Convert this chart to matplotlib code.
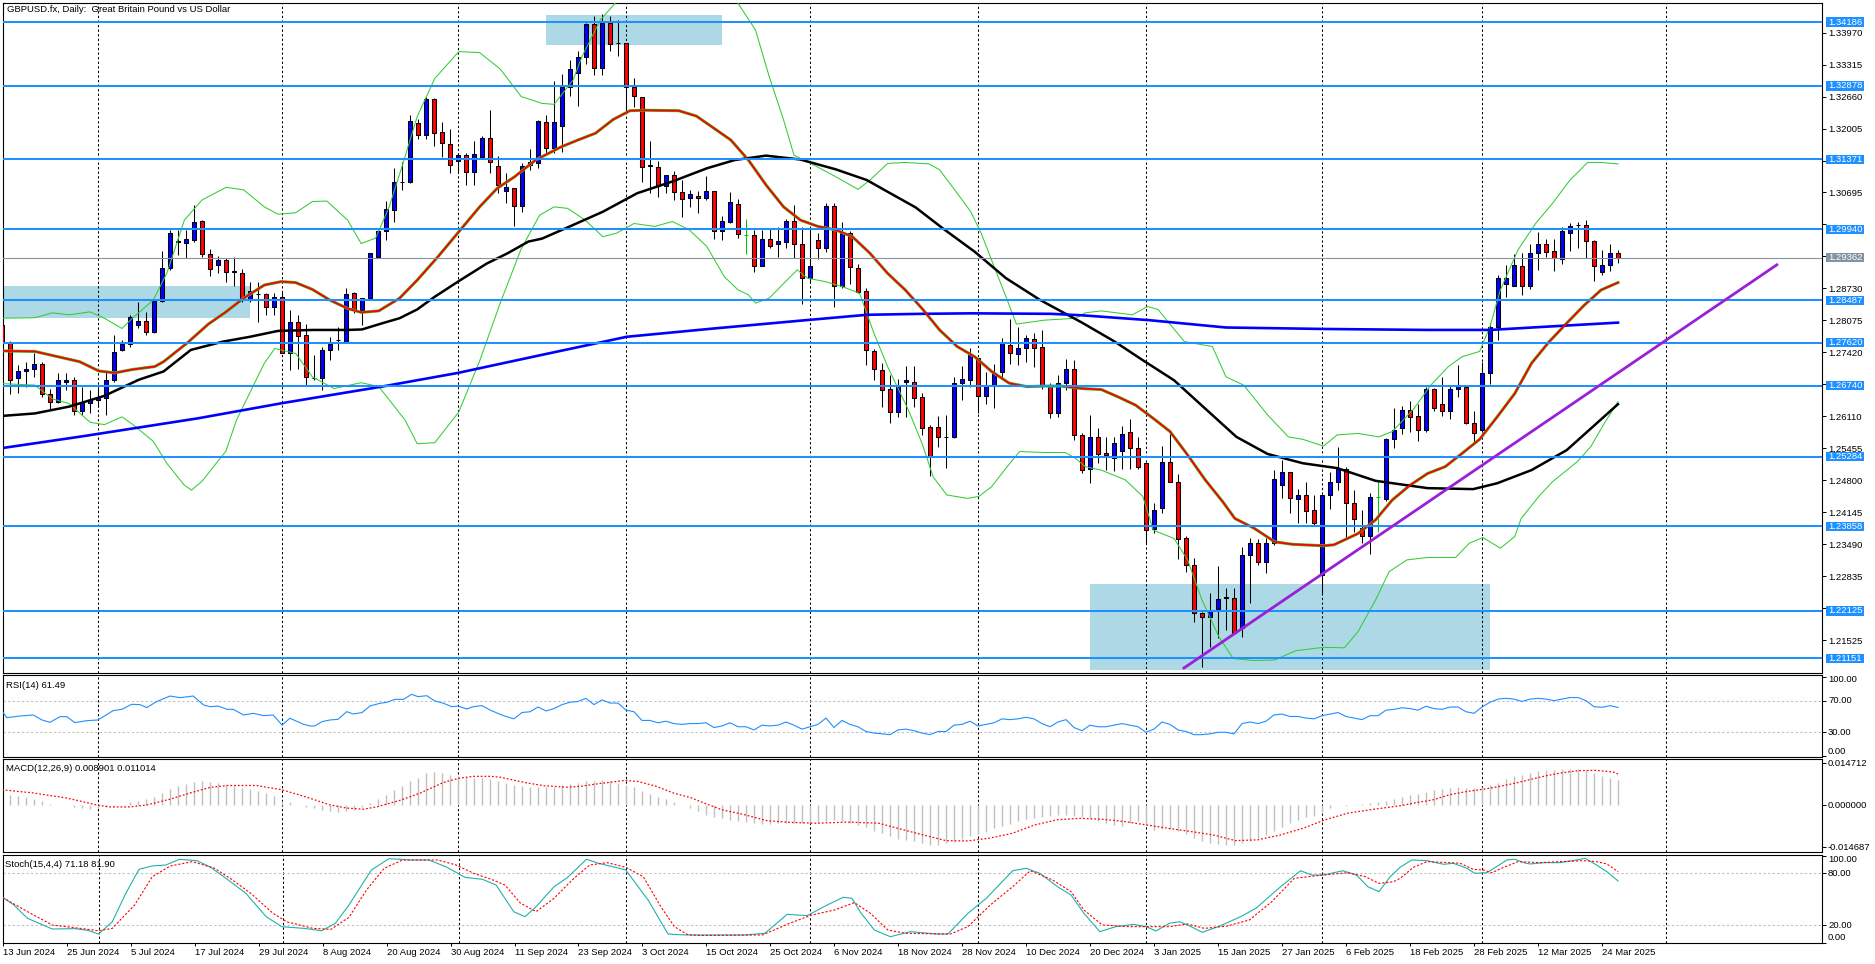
import matplotlib
matplotlib.use("Agg")
import matplotlib.pyplot as plt
import matplotlib.transforms as mtrans
from matplotlib.patches import Rectangle
import numpy as np
import pandas as pd

plt.rcParams['font.family'] = ['Liberation Sans', 'DejaVu Sans']
plt.rcParams['font.size'] = 6.8

#------ daily bars (13 Jun 2024 .. 26 Mar 2025, no 25 Dec / 1 Jan) ------------
dates = pd.bdate_range("2024-06-13", "2025-03-26")
dates = dates[~dates.isin(pd.to_datetime(["2024-12-25", "2025-01-01"]))]

opens = [1.2798, 1.2761, 1.2689, 1.2704, 1.2709, 1.2718, 1.2656, 1.2641, 1.2682, 1.2686,
         1.2621, 1.2638, 1.2644, 1.2648, 1.2685, 1.2747, 1.2760, 1.2798, 1.2806, 1.2784,
         1.2847, 1.2914, 1.2970, 1.2967, 1.2972, 1.3011, 1.2943, 1.2920, 1.2931, 1.2907,
         1.2905, 1.2849, 1.2861, 1.2861, 1.2834, 1.2855, 1.2740, 1.2805, 1.2778, 1.2690,
         1.2689, 1.2747, 1.2767, 1.2764, 1.2863, 1.2829, 1.2854, 1.2938, 1.2990, 1.3034,
         1.3091, 1.3090, 1.3211, 1.3187, 1.3260, 1.3194, 1.3168, 1.3133, 1.3146, 1.3112,
         1.3143, 1.3182, 1.3124, 1.3073, 1.3078, 1.3042, 1.3125, 1.3130, 1.3214, 1.3160,
         1.3206, 1.3285, 1.3315, 1.3346, 1.3415, 1.3324, 1.3416, 1.3375, 1.3375, 1.3285,
         1.3266, 1.3124, 1.3121, 1.3083, 1.3105, 1.3070, 1.3059, 1.3063, 1.3059, 1.3072,
         1.2990, 1.3009, 1.3045, 1.2982, 1.2982, 1.2919, 1.2974, 1.2963, 1.2969, 1.3011,
         1.2965, 1.2895, 1.2972, 1.2956, 1.3042, 1.2877, 1.2986, 1.2915, 1.2867, 1.2745,
         1.2706, 1.2668, 1.2619, 1.2681, 1.2681, 1.2650, 1.2590, 1.2590, 1.2568, 1.2568,
         1.2679, 1.2686, 1.2730, 1.2653, 1.2674, 1.2701, 1.2757, 1.2739, 1.2750, 1.2769,
         1.2754, 1.2675, 1.2617, 1.2680, 1.2709, 1.2573, 1.2503, 1.2568, 1.2535, 1.2525,
         1.2540, 1.2580, 1.2546, 1.2516, 1.2380, 1.2424, 1.2518, 1.2476, 1.2361, 1.2307,
         1.2208, 1.2200, 1.2216, 1.2241, 1.2238, 1.2177, 1.2327, 1.2352, 1.2313, 1.2351,
         1.2470, 1.2498, 1.2441, 1.2450, 1.2419, 1.2286, 1.2450, 1.2476, 1.2504, 1.2434,
         1.2382, 1.2366, 1.2445, 1.2441, 1.2564, 1.2588, 1.2624, 1.2611, 1.2583, 1.2668,
         1.2636, 1.2623, 1.2667, 1.2672, 1.2598, 1.2583, 1.2699, 1.2793, 1.2882, 1.2878,
         1.2918, 1.2877, 1.2945, 1.2963, 1.2950, 1.2933, 1.2987, 1.3003, 1.3003, 1.2971,
         1.2907, 1.2922, 1.2945]
highs = [1.2801, 1.2766, 1.2716, 1.2723, 1.2740, 1.2723, 1.2668, 1.2699, 1.2699, 1.2692,
         1.2672, 1.2665, 1.2670, 1.2702, 1.2777, 1.2767, 1.2819, 1.2846, 1.2825, 1.2850,
         1.2950, 1.2993, 1.2993, 1.2993, 1.3044, 1.3013, 1.2953, 1.2939, 1.2935, 1.2938,
         1.2912, 1.2887, 1.2887, 1.2864, 1.2863, 1.2866, 1.2829, 1.2819, 1.2801, 1.2737,
         1.2754, 1.2774, 1.2795, 1.2873, 1.2866, 1.2854, 1.2945, 1.2993, 1.3052, 1.3119,
         1.3131, 1.3228, 1.3221, 1.3266, 1.3262, 1.3214, 1.3199, 1.3150, 1.3150, 1.3175,
         1.3185, 1.3238, 1.3144, 1.3110, 1.3078, 1.3129, 1.3158, 1.3218, 1.3228, 1.3298,
         1.3313, 1.3341, 1.3359, 1.3416, 1.3431, 1.3435, 1.3430, 1.3423, 1.3375, 1.3305,
         1.3266, 1.3175, 1.3133, 1.3105, 1.3114, 1.3095, 1.3075, 1.3072, 1.3103, 1.3072,
         1.3021, 1.3070, 1.3057, 1.3015, 1.2993, 1.2993, 1.2996, 1.2999, 1.3016, 1.3044,
         1.2999, 1.2999, 1.2986, 1.3047, 1.3049, 1.3010, 1.2990, 1.2924, 1.2873, 1.2748,
         1.2720, 1.2696, 1.2687, 1.2714, 1.2714, 1.2658, 1.2593, 1.2612, 1.2614, 1.2692,
         1.2715, 1.2750, 1.2730, 1.2702, 1.2719, 1.2771, 1.2810, 1.2795, 1.2777, 1.2781,
         1.2788, 1.2679, 1.2696, 1.2728, 1.2726, 1.2576, 1.2614, 1.2588, 1.2569, 1.2569,
         1.2591, 1.2605, 1.2569, 1.2516, 1.2434, 1.2550, 1.2576, 1.2493, 1.2366, 1.2321,
         1.2211, 1.2249, 1.2305, 1.2259, 1.2259, 1.2344, 1.2361, 1.2359, 1.2361, 1.2501,
         1.2522, 1.2498, 1.2462, 1.2477, 1.2450, 1.2450, 1.2498, 1.2549, 1.2508, 1.2460,
         1.2420, 1.2454, 1.2481, 1.2566, 1.2629, 1.2632, 1.2643, 1.2636, 1.2672, 1.2670,
         1.2691, 1.2675, 1.2716, 1.2675, 1.2621, 1.2723, 1.2802, 1.2901, 1.2921, 1.2943,
         1.2945, 1.2965, 1.2989, 1.2974, 1.2974, 1.2998, 1.3008, 1.3010, 1.3014, 1.2972,
         1.2952, 1.2965, 1.2952]
lows = [1.2755, 1.2656, 1.2658, 1.2672, 1.2692, 1.2651, 1.2624, 1.2638, 1.2665, 1.2614,
        1.2614, 1.2617, 1.2630, 1.2614, 1.2682, 1.2744, 1.2753, 1.2791, 1.2777, 1.2781,
        1.2846, 1.2911, 1.2941, 1.2936, 1.2969, 1.2938, 1.2899, 1.2905, 1.2887, 1.2877,
        1.2846, 1.2846, 1.2805, 1.2818, 1.2818, 1.2740, 1.2706, 1.2709, 1.2675, 1.2685,
        1.2665, 1.2726, 1.2747, 1.2764, 1.2822, 1.2798, 1.2852, 1.2935, 1.2972, 1.3010,
        1.3075, 1.3089, 1.3180, 1.3180, 1.3165, 1.3143, 1.3109, 1.3112, 1.3085, 1.3085,
        1.3140, 1.3110, 1.3068, 1.3047, 1.3001, 1.3030, 1.3115, 1.3119, 1.3150, 1.3150,
        1.3153, 1.3268, 1.3247, 1.3332, 1.3311, 1.3311, 1.3359, 1.3350, 1.3233, 1.3244,
        1.3092, 1.3069, 1.3060, 1.3069, 1.3054, 1.3020, 1.3040, 1.3028, 1.3054, 1.2975,
        1.2973, 1.3006, 1.2977, 1.2943, 1.2906, 1.2919, 1.2955, 1.2938, 1.2956, 1.2936,
        1.2842, 1.2887, 1.2933, 1.2948, 1.2834, 1.2873, 1.2883, 1.2863, 1.2717, 1.2685,
        1.2630, 1.2597, 1.2610, 1.2610, 1.2630, 1.2573, 1.2488, 1.2549, 1.2505, 1.2566,
        1.2644, 1.2672, 1.2617, 1.2636, 1.2629, 1.2692, 1.2719, 1.2716, 1.2723, 1.2713,
        1.2667, 1.2607, 1.2610, 1.2665, 1.2563, 1.2494, 1.2474, 1.2515, 1.2501, 1.2500,
        1.2503, 1.2503, 1.2503, 1.2351, 1.2373, 1.2414, 1.2476, 1.2318, 1.2293, 1.2189,
        1.2097, 1.2138, 1.2158, 1.2173, 1.2166, 1.2160, 1.2228, 1.2306, 1.2291, 1.2348,
        1.2443, 1.2413, 1.2392, 1.2392, 1.2386, 1.2249, 1.2421, 1.2460, 1.2361, 1.2375,
        1.2352, 1.2329, 1.2375, 1.2437, 1.2546, 1.2575, 1.2580, 1.2561, 1.2578, 1.2623,
        1.2611, 1.2605, 1.2651, 1.2595, 1.2557, 1.2580, 1.2678, 1.2768, 1.2855, 1.2877,
        1.2860, 1.2871, 1.2911, 1.2938, 1.2909, 1.2923, 1.2950, 1.2955, 1.2935, 1.2889,
        1.2900, 1.2909, 1.2926]
closes = [1.2762, 1.2685, 1.2704, 1.2707, 1.2718, 1.2656, 1.2641, 1.2685, 1.2685, 1.2621,
          1.2638, 1.2644, 1.2648, 1.2685, 1.2743, 1.2760, 1.2815, 1.2806, 1.2784, 1.2847,
          1.2915, 1.2987, 1.2969, 1.2974, 1.3010, 1.2943, 1.2912, 1.2932, 1.2906, 1.2908,
          1.2849, 1.2868, 1.2862, 1.2834, 1.2855, 1.2740, 1.2805, 1.2775, 1.2692, 1.2689,
          1.2747, 1.2760, 1.2768, 1.2861, 1.2829, 1.2854, 1.2945, 1.2990, 1.3035, 1.3090,
          1.3092, 1.3216, 1.3187, 1.3260, 1.3191, 1.3170, 1.3126, 1.3147, 1.3112, 1.3148,
          1.3182, 1.3131, 1.3085, 1.3080, 1.3042, 1.3124, 1.3131, 1.3216, 1.3160, 1.3213,
          1.3285, 1.3322, 1.3346, 1.3415, 1.3324, 1.3416, 1.3373, 1.3376, 1.3285, 1.3267,
          1.3122, 1.3125, 1.3083, 1.3105, 1.3070, 1.3057, 1.3066, 1.3059, 1.3073, 1.2990,
          1.3011, 1.3050, 1.2984, 1.2982, 1.2919, 1.2975, 1.2960, 1.2970, 1.3011, 1.2963,
          1.2895, 1.2918, 1.2956, 1.3042, 1.2877, 1.2986, 1.2917, 1.2866, 1.2747, 1.2707,
          1.2665, 1.2619, 1.2673, 1.2685, 1.2649, 1.2588, 1.2530, 1.2569, 1.2569, 1.2679,
          1.2688, 1.2737, 1.2653, 1.2674, 1.2699, 1.2761, 1.2740, 1.2750, 1.2771, 1.2750,
          1.2675, 1.2617, 1.2680, 1.2709, 1.2573, 1.2501, 1.2568, 1.2534, 1.2532, 1.2556,
          1.2575, 1.2546, 1.2508, 1.2378, 1.2420, 1.2518, 1.2476, 1.2359, 1.2307, 1.2208,
          1.2200, 1.2212, 1.2236, 1.2239, 1.2167, 1.2327, 1.2352, 1.2313, 1.2352, 1.2482,
          1.2498, 1.2443, 1.2450, 1.2417, 1.2392, 1.2450, 1.2477, 1.2504, 1.2434, 1.2400,
          1.2366, 1.2445, 1.2445, 1.2564, 1.2584, 1.2624, 1.2610, 1.2583, 1.2668, 1.2629,
          1.2623, 1.2668, 1.2675, 1.2598, 1.2576, 1.2699, 1.2793, 1.2894, 1.2894, 1.2922,
          1.2877, 1.2945, 1.2963, 1.2948, 1.2935, 1.2991, 1.3001, 1.3002, 1.2971, 1.2918,
          1.2922, 1.2946, 1.2936]

#------ indicator lines on the price chart (bar index, price) ------------------
ma_red_x = [0.1, 4.1, 9.7, 12.1, 14.1, 16.3, 19.1, 20.2, 23.2, 25.8, 28.0, 30.2, 32.8, 34.9,
            36.7, 38.8, 41.0, 43.2, 44.9, 47.1, 49.7, 51.9, 54.5, 57.1, 59.7, 61.9, 64.1,
            66.7, 69.9, 72.0, 74.2, 76.4, 78.5, 80.3, 84.6, 86.8, 89.0, 91.1, 93.3, 95.5,
            97.7, 99.8, 102.0, 104.2, 106.3, 108.5, 110.7, 112.9, 115.0, 117.2, 119.4, 121.6,
            123.7, 125.9, 128.1, 130.3, 132.4, 135.0, 137.4, 139.5, 141.7, 143.9, 146.0,
            148.2, 150.4, 152.6, 154.1, 156.5, 159.1, 161.3, 165.2, 166.5, 169.5, 171.7,
            173.8, 176.0, 178.2, 180.4, 182.5, 184.7, 186.9, 189.1, 191.2, 193.4, 195.6,
            197.8, 199.9, 202.0]
ma_red_y = [1.2745, 1.2744, 1.2723, 1.2704, 1.2700, 1.2707, 1.2713, 1.2723, 1.2762, 1.2800,
            1.2825, 1.2853, 1.2880, 1.2887, 1.2885, 1.2871, 1.2849, 1.2832, 1.2824, 1.2827,
            1.2853, 1.2890, 1.2938, 1.2989, 1.3040, 1.3078, 1.3102, 1.3136, 1.3163, 1.3177,
            1.3191, 1.3219, 1.3237, 1.3238, 1.3237, 1.3226, 1.3201, 1.3177, 1.3136, 1.3085,
            1.3040, 1.3013, 1.3000, 1.2993, 1.2979, 1.2945, 1.2904, 1.2870, 1.2832, 1.2788,
            1.2754, 1.2733, 1.2703, 1.2679, 1.2672, 1.2673, 1.2673, 1.2668, 1.2666, 1.2651,
            1.2634, 1.2607, 1.2580, 1.2532, 1.2481, 1.2436, 1.2402, 1.2382, 1.2354, 1.2349,
            1.2346, 1.2348, 1.2371, 1.2399, 1.2440, 1.2470, 1.2494, 1.2508, 1.2535, 1.2564,
            1.2610, 1.2658, 1.2720, 1.2764, 1.2802, 1.2839, 1.2870, 1.2885]

ma_black_x = [0.1, 4.1, 8.4, 12.8, 17.1, 20.2, 23.6, 27.6, 31.0, 34.5, 38.9, 43.2, 45.0, 47.6,
              49.7, 51.9, 54.1, 57.1, 60.6, 63.2, 65.8, 67.5, 70.7, 75.1, 79.4, 83.8, 88.1,
              91.6, 95.5, 99.8, 104.2, 108.1, 110.7, 114.2, 117.6, 121.6, 125.5, 129.8, 135.0,
              139.1, 142.6, 146.5, 150.8, 154.3, 158.2, 162.6, 166.9, 171.7, 178.2, 183.9,
              186.9, 191.2, 195.6, 198.6, 202.0]
ma_black_y = [1.2612, 1.2617, 1.2631, 1.2653, 1.2686, 1.2703, 1.2747, 1.2764, 1.2774, 1.2786,
              1.2788, 1.2788, 1.2789, 1.2802, 1.2812, 1.2830, 1.2856, 1.2888, 1.2924, 1.2945,
              1.2969, 1.2975, 1.2998, 1.3030, 1.3068, 1.3092, 1.3119, 1.3136, 1.3145, 1.3137,
              1.3117, 1.3095, 1.3071, 1.3039, 1.2996, 1.2948, 1.2894, 1.2849, 1.2803, 1.2764,
              1.2726, 1.2685, 1.2621, 1.2569, 1.2534, 1.2515, 1.2505, 1.2479, 1.2464, 1.2462,
              1.2474, 1.2501, 1.2542, 1.2586, 1.2636]

ma_blue_x = [0, 10, 24.5, 35, 47.5, 57, 67.5, 78.1, 89, 99.8, 108.1, 115, 121.1, 131.1, 135,
             143.4, 153, 165.2, 178.2, 186, 193.4, 202]
ma_blue_y = [1.2546, 1.2570, 1.2607, 1.2638, 1.2672, 1.2700, 1.2737, 1.2774, 1.2791, 1.2807,
             1.2819, 1.2821, 1.2822, 1.2821, 1.2818, 1.2808, 1.2793, 1.2790, 1.2788, 1.2788,
             1.2795, 1.2803]

bb_up_x = [0.1, 4.1, 6.3, 8.4, 11.0, 12.8, 15.0, 16.3, 18.9, 20.6, 22.8, 25.0, 28.0, 30.2,
           32.8, 34.5, 36.7, 38.8, 40.6, 43.2, 44.9, 46.7, 48.4, 50.2, 51.9, 54.1, 57.1, 59.7,
           62.3, 64.9, 67.5, 69.0, 71.4, 72.5, 74.8, 76.8, 80.0, 84.0, 88.0, 92.0, 94.2, 95.9,
           97.7, 99.0, 101.1, 104.2, 107.0, 108.5, 110.7, 112.9, 115.9, 117.2, 119.4, 121.1,
           122.4, 123.7, 125.5, 126.8, 130.3, 134.2, 135.4, 137.4, 141.3, 143.2, 144.5, 147.8,
           151.3, 153.0, 155.2, 158.2, 160.8, 162.6, 165.2, 166.9, 169.5, 172.1, 173.8, 176.5,
           178.6, 180.8, 182.5, 184.7, 186.0, 187.3, 189.5, 191.7, 193.8, 196.0, 198.2, 199.9,
           202.0]
bb_up_y = [1.2812, 1.2813, 1.2823, 1.2819, 1.2825, 1.2812, 1.2791, 1.2812, 1.2849, 1.2904,
           1.3013, 1.3054, 1.3080, 1.3075, 1.3040, 1.3025, 1.3028, 1.3051, 1.3052, 1.3013,
           1.2965, 1.2976, 1.3040, 1.3133, 1.3225, 1.3303, 1.3358, 1.3356, 1.3322, 1.3266,
           1.3252, 1.3250, 1.3300, 1.3348, 1.3423, 1.3460, 1.3540, 1.3580, 1.3560, 1.3457,
           1.3402, 1.3307, 1.3218, 1.3146, 1.3129, 1.3102, 1.3076, 1.3095, 1.3129, 1.3131,
           1.3128, 1.3116, 1.3068, 1.3030, 1.2986, 1.2931, 1.2856, 1.2800, 1.2808, 1.2812,
           1.2823, 1.2827, 1.2819, 1.2836, 1.2830, 1.2764, 1.2754, 1.2692, 1.2675, 1.2614,
           1.2569, 1.2564, 1.2550, 1.2573, 1.2576, 1.2569, 1.2580, 1.2627, 1.2675, 1.2713,
           1.2733, 1.2744, 1.2795, 1.2870, 1.2952, 1.3006, 1.3047, 1.3095, 1.3131, 1.3131,
           1.3128]

bb_lo_x = [0.1, 4.1, 6.3, 8.4, 11.0, 12.8, 15.0, 16.3, 18.9, 20.6, 22.8, 23.7, 25.0, 28.0,
           29.3, 32.8, 34.1, 36.7, 38.8, 41.5, 44.9, 47.1, 50.4, 51.9, 54.1, 57.1, 59.7, 62.3,
           64.9, 67.2, 69.0, 70.7, 72.9, 75.1, 76.8, 79.0, 81.6, 83.8, 85.9, 88.1, 90.3, 92.0,
           93.3, 94.2, 95.9, 97.7, 99.4, 100.7, 102.9, 105.0, 107.2, 109.0, 110.7, 113.3,
           115.0, 116.4, 118.1, 120.7, 122.1, 123.7, 125.5, 127.2, 130.3, 132.9, 134.2, 135.4,
           137.4, 140.4, 142.6, 143.9, 146.5, 148.2, 150.0, 152.1, 153.9, 156.5, 159.1, 161.7,
           165.2, 167.8, 169.5, 171.7, 173.4, 175.6, 178.2, 181.7, 183.4, 185.1, 187.3, 189.1,
           189.9, 192.1, 193.8, 196.9, 198.6, 200.3, 202.0]
bb_lo_y = [1.2678, 1.2675, 1.2647, 1.2637, 1.2599, 1.2594, 1.2610, 1.2595, 1.2560, 1.2515,
           1.2470, 1.2460, 1.2478, 1.2540, 1.2603, 1.2720, 1.2750, 1.2740, 1.2692, 1.2668,
           1.2680, 1.2672, 1.2603, 1.2555, 1.2557, 1.2620, 1.2724, 1.2844, 1.2954, 1.3023,
           1.3040, 1.3037, 1.3013, 1.2979, 1.2986, 1.3006, 1.3000, 1.3010, 1.2993, 1.2959,
           1.2897, 1.2870, 1.2860, 1.2843, 1.2853, 1.2883, 1.2911, 1.2894, 1.2887, 1.2877,
           1.2863, 1.2781, 1.2713, 1.2624, 1.2556, 1.2487, 1.2450, 1.2443, 1.2447, 1.2467,
           1.2505, 1.2539, 1.2537, 1.2537, 1.2525, 1.2508, 1.2501, 1.2481, 1.2447, 1.2378,
           1.2361, 1.2317, 1.2235, 1.2160, 1.2115, 1.2111, 1.2112, 1.2131, 1.2138, 1.2137,
           1.2170, 1.2235, 1.2293, 1.2317, 1.2322, 1.2322, 1.2351, 1.2363, 1.2341, 1.2365,
           1.2402, 1.2447, 1.2477, 1.2518, 1.2549, 1.2597, 1.2641]

#------ chart objects ----------------------------------------------------------
levels = [1.34186, 1.32878, 1.31371, 1.29940, 1.28487, 1.27620, 1.26740, 1.25284,
          1.23858, 1.22125, 1.21151]
bid = 1.29362
zone_x0 = [-5, 68, 136]
zone_x1 = [31, 90, 186]
zone_lo = [1.28131, 1.33722, 1.20915]
zone_hi = [1.28780, 1.34330, 1.22677]
trend_x = [147.6, 222.0]
trend_y = [1.2094, 1.2923]
price_ticks = [1.21525 + 0.00655 * k for k in range(20)]

#------ RSI(14) ----------------------------------------------------------------
rsi_x = [0, 0.6, 2.25, 3.9, 5, 6, 7.25, 8.1, 9.1, 10.6, 12, 13.9, 15, 16.2, 17.25, 18.1,
         19.3, 21, 22.25, 23.9, 25.2, 26, 27, 28.1, 28.9, 30.2, 31.4, 32.7, 33.9, 35, 36,
         37.7, 38.5, 39.1, 40, 41, 42, 43.1, 43.9, 45, 46, 47.25, 48.1, 49.1, 50.2, 51.2, 52,
         53.1, 54.1, 55.2, 56.2, 57, 58.1, 58.9, 60, 61, 62.25] + list(range(63, 203))
rsi_y = [57.0, 48.5, 50.6, 51.9, 45.6, 42.6, 49.8, 49.8, 42.2, 44.7, 45.6, 57.4, 59.1, 65.4,
         65.0, 61.2, 68.7, 75.9, 73.8, 75.9, 64.6, 62.4, 63.2, 59.1, 59.1, 51.9, 54.0, 51.1,
         51.9, 39.2, 47.7, 40.1, 38.0, 38.0, 43.5, 45.6, 46.4, 56.1, 53.2, 54.9, 63.3, 66.7,
         67.9, 71.7, 71.7, 78.1, 75.1, 76.3, 69.6, 66.7, 62.4, 63.2, 59.5, 62.4, 63.7, 58.2,
         52.8,
         50, 47, 55, 56, 62, 57, 60, 65, 68, 69, 73, 65, 71, 67, 67, 58, 56, 45, 45, 42,
         44, 41, 40, 41, 41, 42, 36, 38, 42, 37, 37, 33, 39, 38, 39, 43, 39, 34, 37, 40,
         48, 36, 45, 40, 37, 31, 29, 28, 27, 33, 34, 32, 29, 27, 31, 31, 39, 40, 44, 38,
         40, 42, 47, 46, 47, 49, 47, 41, 37, 43, 46, 36, 32, 39, 37, 37, 39, 41, 39, 37,
         30, 34, 43, 40, 33, 31, 27, 27, 28, 30, 30, 28, 41, 43, 41, 44, 52, 53, 50, 50,
         48, 47, 51, 53, 55, 50, 48, 46, 51, 51, 58, 59, 61, 60, 58, 63, 60, 59, 62, 62,
         56, 54, 62, 68, 72, 73, 72, 69, 72, 73, 72, 70, 72, 74, 74, 70, 62.4, 61.6, 63.7,
         61.49]

#------ MACD(12,26,9) ----------------------------------------------------------
macd_main = [0.0040, 0.0038, 0.0032, 0.0029, 0.0023, 0.0014, 0.0006, 0.0003, 0.0000, -0.0005,
             -0.0009, -0.0012, -0.0010, -0.0006, -0.0001, 0.0003, 0.0011, 0.0015, 0.0023, 0.0030,
             0.0043, 0.0057, 0.0068, 0.0076, 0.0083, 0.0084, 0.0081, 0.0077, 0.0072, 0.0067,
             0.0060, 0.0057, 0.0050, 0.0043, 0.0032, 0.0016, 0.0011, 0.0003, -0.0004, -0.0009,
             -0.0015, -0.0020, -0.0023, -0.0020, -0.0015, -0.0006, 0.0008, 0.0022, 0.0037, 0.0053,
             0.0067, 0.0084, 0.0096, 0.0112, 0.0116, 0.0114, 0.0108, 0.0103, 0.0100, 0.0097,
             0.0095, 0.0091, 0.0085, 0.0079, 0.0071, 0.0067, 0.0064, 0.0065, 0.0064, 0.0066,
             0.0071, 0.0076, 0.0080, 0.0086, 0.0085, 0.0090, 0.0086, 0.0080, 0.0072, 0.0064,
             0.0050, 0.0040, 0.0029, 0.0021, 0.0011, 0.0002, -0.0008, -0.0018, -0.0033, -0.0039,
             -0.0045, -0.0050, -0.0054, -0.0058, -0.0062, -0.0065, -0.0065, -0.0062, -0.0062, -0.0062,
             -0.0062, -0.0062, -0.0058, -0.0055, -0.0050, -0.0054, -0.0060, -0.0067, -0.0076, -0.0088,
             -0.0097, -0.0108, -0.0117, -0.0121, -0.0124, -0.0131, -0.0137, -0.0137, -0.0132, -0.0127,
             -0.0116, -0.0108, -0.0101, -0.0092, -0.0077, -0.0070, -0.0063, -0.0053, -0.0046, -0.0042,
             -0.0039, -0.0035, -0.0033, -0.0033, -0.0036, -0.0040, -0.0045, -0.0055, -0.0061, -0.0068,
             -0.0072, -0.0060, -0.0055, -0.0068, -0.0085, -0.0081, -0.0082, -0.0090, -0.0100, -0.0115,
             -0.0125, -0.0131, -0.0136, -0.0138, -0.0138, -0.0132, -0.0123, -0.0113, -0.0103, -0.0089,
             -0.0074, -0.0062, -0.0050, -0.0040, -0.0035, -0.0022, -0.0008, 0.0001, -0.0002, 0.0003,
             0.0006, 0.0009, 0.0011, 0.0015, 0.0022, 0.0030, 0.0036, 0.0041, 0.0048, 0.0054,
             0.0056, 0.0062, 0.0065, 0.0062, 0.0060, 0.0064, 0.0070, 0.0080, 0.0091, 0.0102,
             0.0108, 0.0114, 0.0121, 0.0123, 0.0123, 0.0126, 0.0129, 0.0129, 0.0124, 0.0115,
             0.0104, 0.0097, 0.008901]
macd_sig_x = [0, 3.9, 8.1, 12, 13.5, 16, 18.1, 21, 23.9, 26, 28.1, 31.8, 35, 38.1, 41, 43.1,
              45.2, 46.8, 49.75, 52.25, 55.2, 57.25, 58.9, 61, 62.25, 65.6, 67.8, 70.6, 72.3,
              74.5, 76.8, 77.9, 79.5, 81.8, 84, 86.25, 87.25, 90, 92.8, 95.6, 98.4, 101.8, 105.7,
              109.6, 112.4, 115.15, 118, 120.7, 123.5, 126.3, 129.1, 131.9, 134.7, 137.5, 140.3,
              143.05, 145.8, 148.6, 151.4, 154.2, 157, 159.8, 162.6, 165.4, 168.2, 171, 174.75,
              176.8, 178.9, 181, 183.1, 185.2, 187.25, 189.3, 190.9, 193, 195.1, 197.2, 199.3,
              201.4, 202]
macd_sig_y = [0.0055, 0.0044, 0.0026, 0.0001, -0.0005, -0.0005, 0.0002, 0.0022, 0.0047, 0.0063,
              0.0070, 0.0070, 0.0055, 0.0029, 0.0002, -0.0009, -0.0013, -0.0005, 0.0018, 0.0043,
              0.0081, 0.0096, 0.0102, 0.0102, 0.0099, 0.0079, 0.0069, 0.0064, 0.0067, 0.0076,
              0.0084, 0.0088, 0.0084, 0.0067, 0.0043, 0.0026, 0.0014, -0.0015, -0.0032, -0.0053,
              -0.0059, -0.0062, -0.0058, -0.0062, -0.0083, -0.0103, -0.0123, -0.0124, -0.0114,
              -0.0097, -0.0068, -0.0050, -0.0045, -0.0048, -0.0056, -0.0068, -0.0080, -0.0091,
              -0.0103, -0.0123, -0.0120, -0.0103, -0.0080, -0.0050, -0.0027, -0.0015, -0.0001,
              0.0010, 0.0020, 0.0038, 0.0049, 0.0057, 0.0067, 0.0079, 0.0090, 0.0104, 0.0115,
              0.0122, 0.0123, 0.0117, 0.011014]

#------ Stochastic(15,4,4) -----------------------------------------------------
sto_k_x = [0, 1.4, 3.1, 6.2, 9, 10.6, 12, 13.7, 15.4, 17.05, 18.7, 20.4, 22.1, 24.3, 26, 28.2,
           30.4, 32.95, 34.9, 37.7, 39.9, 41.6, 43.3, 46.1, 48.3, 51.1, 53.3, 55.55, 57.8, 60,
           61.7, 63.9, 65.3, 66.7, 68.95, 70.6, 73, 74.5, 77.9, 80.7, 83.2, 85.1, 87.25, 92.8,
           95.3, 98.1, 100.6, 103.1, 105.1, 106.2, 107.3, 109, 111, 113.5, 116.8, 118.2, 120.7,
           123, 126.3, 128, 129.7, 131.9, 133.6, 135.2, 137.2, 139.2, 141.4, 143, 144.2, 145.9,
           147.2, 148.6, 150, 152, 153.4, 154.8, 156.7, 159.8, 162.3, 163.7, 165.1, 167.6, 169.3,
           170.7, 172.1, 173.5, 174.75, 176.2, 178.1, 180.2, 181.4, 183.1, 184.1, 185.6, 186.8,
           188.1, 189.1, 190.2, 191, 192.7, 194.75, 196.8, 197.9, 199.3, 200.6, 202]
sto_k_y = [52.3, 43.5, 28.1, 15.8, 16.2, 14.3, 10, 24.2, 57, 84.7, 88.5, 89.6, 96.2, 94.6, 87,
           72.3, 57, 30, 18.5, 16.5, 13.8, 22.4, 43.5, 83.8, 96.9, 95.4, 95.4, 87, 75.4, 73.1,
           66.5, 35.8, 30, 41.5, 64.6, 75, 96.2, 91.6, 84, 49.3, 10, 9, 8.9, 8.9, 10.8, 32.7,
           31.2, 43.5, 52.3, 51.2, 34.6, 14.6, 6.9, 12.7, 10, 10, 33.9, 51.2, 83, 85.8, 80, 64.6,
           55, 33.9, 12.7, 18.5, 21.1, 18.5, 13.5, 22.4, 24.2, 18.5, 12, 18.5, 24.2, 30, 39.6,
           64.6, 83, 78, 78, 83, 78, 64.6, 58.8, 76.1, 87, 95.4, 94.6, 90.4, 91.6, 85.8, 80,
           80.7, 87.7, 95.4, 96.2, 92.3, 90.8, 92.3, 92.3, 95.4, 97.3, 89.6, 81.9, 71.18]
sto_d_x = [0, 3.1, 6.2, 9, 12, 13.7, 16.5, 18.7, 20.95, 23.75, 26.5, 28.75, 31, 33.8, 35.5,
           38.8, 41.05, 43.3, 45.5, 47.7, 50, 54.4, 56.7, 58.9, 61.1, 62.8, 64.75, 66.7, 68.95,
           71.2, 73.4, 75.6, 77.9, 80.1, 82.3, 84, 85.7, 87.25, 95, 98.4, 101.2, 104, 106.5,
           108.5, 110.7, 112.9, 118.5, 120.7, 123.5, 126.3, 128.5, 131.3, 133.6, 135.2, 137.5,
           140.8, 143.6, 145.9, 148.1, 150.3, 153.1, 155.9, 158.7, 161.5, 165, 168.2, 170.4,
           172.1, 173.9, 174.75, 176.4, 178.1, 181, 182.25, 183.9, 185.2, 186.2, 187.7, 189.5,
           192.25, 194.75, 197.7, 199.3, 200.6, 202]
sto_d_y = [52, 35.8, 20.4, 17.3, 13.8, 16.5, 43.5, 76.1, 88.5, 93.5, 85.8, 72.3, 57, 33.9, 24.2,
           16.5, 15.4, 29.3, 60.8, 85.8, 95.4, 95.4, 89.6, 80, 73.1, 66.5, 45.6, 35.8, 51.2,
           72.3, 89.6, 92.3, 87, 76.1, 41.5, 18.5, 9, 8.3, 8.9, 22.4, 32, 37.7, 46.2, 33.9,
           14.6, 10.8, 10, 18.5, 43.5, 64.6, 83, 72.3, 58.8, 37.7, 20.4, 18.5, 18.5, 18.5, 21.6,
           16.5, 19.2, 26.2, 47.3, 74.2, 78, 80.7, 76.1, 68.4, 70.3, 74.2, 86.9, 93.5, 92.3,
           91.6, 84.6, 83.8, 80.7, 86.9, 93.5, 92.3, 93.5, 94.6, 93.5, 90.8, 81.90]

#------------------------------------------------------------------------------
o, h, l, c = map(np.asarray, (opens, highs, lows, closes))
n = len(o)
x = np.arange(n)

W, H = 1875.0, 964.0
X0, X1 = 2.7, 1822.0
fig = plt.figure(figsize=(W / 100, H / 100), dpi=100)


def panel(top, bottom):
    a = fig.add_axes([X0 / W, 1 - bottom / H, (X1 - X0) / W, (bottom - top) / H])
    a.set_xlim(0.09, 227.5)
    for s in a.spines.values():
        s.set_linewidth(0.8)
        s.set_color("black")
    a.tick_params(axis="x", bottom=False, labelbottom=False)
    a.yaxis.tick_right()
    a.tick_params(axis="y", direction="out", length=2.9, width=0.7, pad=1.4,
                  labelsize=6.8, left=False)
    return a


ax = panel(2.7, 673)
ax_rsi = panel(675, 756.7)
ax_macd = panel(759.3, 852.3)
ax_sto = panel(855.3, 943.3)

# month separators (the last one is the terminal's future separator)
months = dates.to_period("M")
seps = [i for i in range(1, n) if months[i] != months[i - 1]] + [208]
for a in (ax, ax_rsi, ax_macd, ax_sto):
    for s in seps:
        a.axvline(s, color="black", lw=0.75, dashes=(2.2, 2.2), zorder=1)

#------ price panel -------------------------------------------------------------
ax.set_ylim(1.20854, 1.34582)
px_price = (1.34582 - 1.20854) / (673 - 2.7)   # price per pixel

for x0, x1, lo, hi in zip(zone_x0, zone_x1, zone_lo, zone_hi):
    ax.add_patch(Rectangle((x0, lo), x1 - x0, hi - lo, facecolor="#ADD8E6",
                           edgecolor="none", zorder=0.5))

up = c > o
dn = c < o
body_col = np.where(up, "#0000FF", np.where(dn, "#FF0000", "#00C800"))
edge_col = np.where(up | dn, "black", "#00C800")
ax.vlines(x, l, h, colors=edge_col, lw=0.75, zorder=3)
ax.bar(x, np.abs(c - o), bottom=np.minimum(o, c), width=0.55, color=body_col,
       edgecolor=edge_col, linewidth=0.75, zorder=4)

ax.plot(bb_up_x, bb_up_y, color="#32CD32", lw=0.75, zorder=5)
ax.plot(bb_lo_x, bb_lo_y, color="#32CD32", lw=0.75, zorder=5)
ax.plot(ma_red_x, ma_red_y, color="#32CD32", lw=2.2, zorder=5)
ax.plot(ma_red_x, ma_red_y, color="#FF0000", lw=1.35, zorder=5.1)
ax.plot(ma_black_x, ma_black_y, color="black", lw=1.8, zorder=5)
ax.plot(ma_blue_x, ma_blue_y, color="#0000FF", lw=1.9, zorder=5)

for lv in levels:
    ax.axhline(lv, color="#1E90FF", lw=1.45, zorder=6)
ax.axhline(bid, color="#8593A1", lw=0.8, zorder=6)
ax.plot(trend_x, trend_y, color="#9A1FD8", lw=2.0, zorder=6, solid_capstyle="butt")

# scale labels that sit under a price box are not shown by the terminal
marks = levels + [bid]
ax.set_yticks(price_ticks)
ax.set_yticklabels(["" if min(abs(t - m) for m in marks) < 7 * px_price else f"{t:.5f}"
                    for t in price_ticks])

# price boxes on the scale
ax_w = X1 - X0
box_tr = mtrans.blended_transform_factory(ax.transAxes, ax.transData)
half = 4.65 * px_price
for lv, col in [(v, "#1E90FF") for v in levels] + [(bid, "#8593A1")]:
    ax.add_patch(Rectangle((1 + 3.7 / ax_w, lv - half), 38.3 / ax_w, 2 * half,
                           transform=box_tr, facecolor=col, edgecolor="none",
                           clip_on=False, zorder=7))
    ax.text(1 + 6.0 / ax_w, lv, f"{lv:.5f}", transform=box_tr, color="white",
            fontsize=6.8, va="center", ha="left", zorder=8, clip_on=False)

fig.text(6.7 / W, 1 - 9.5 / H, "GBPUSD.fx, Daily:  Great Britain Pound vs US Dollar",
         fontsize=6.8, va="center", ha="left")


def side_labels(a, values, texts, nudges):
    a.set_yticks(values)
    a.set_yticklabels([])
    for v, t, dy in zip(values, texts, nudges):
        a.annotate(t, xy=(1, v), xycoords=("axes fraction", "data"), xytext=(6, dy),
                   textcoords="offset pixels", va="center", ha="left", fontsize=6.8,
                   annotation_clip=False)


#------ RSI ---------------------------------------------------------------------
ax_rsi.set_ylim(-0.9, 102.5)
for v in (70, 30):
    ax_rsi.axhline(v, color="#C0C0C0", lw=0.75, dashes=(2.2, 2.2), zorder=1)
ax_rsi.plot(rsi_x, rsi_y, color="#1E90FF", lw=0.8, zorder=3)
side_labels(ax_rsi, [100, 70, 30, 0], ["100.00", "70.00", "30.00", "0.00"], [-3, 0, 0, 4])
fig.text(6 / W, 1 - 685 / H, "RSI(14) 61.49", fontsize=6.8, va="center", ha="left")

#------ MACD --------------------------------------------------------------------
ax_macd.set_ylim(-0.01637, 0.01616)
ax_macd.vlines(x, 0, macd_main, colors="#C0C0C0", lw=1.0, zorder=2)
ax_macd.plot(macd_sig_x, macd_sig_y, color="#FF0000", lw=0.9, dashes=(1.4, 1.6), zorder=3)
side_labels(ax_macd, [0.014712, 0.0, -0.014687], ["0.014712", "0.000000", "-0.014687"],
            [0, 0, 0])
fig.text(6 / W, 1 - 768.7 / H, "MACD(12,26,9) 0.008901 0.011014", fontsize=6.8,
         va="center", ha="left")

#------ Stochastic --------------------------------------------------------------
ax_sto.set_ylim(-0.7, 100.8)
for v in (80, 20):
    ax_sto.axhline(v, color="#C0C0C0", lw=0.75, dashes=(2.2, 2.2), zorder=1)
ax_sto.plot(sto_k_x, sto_k_y, color="#20B2AA", lw=0.8, zorder=3)
ax_sto.plot(sto_d_x, sto_d_y, color="#FF0000", lw=0.8, dashes=(2.0, 1.6), zorder=3)
side_labels(ax_sto, [100, 80, 20, 0], ["100.00", "80.00", "20.00", "0.00"], [-4, 0, 0, 5])
fig.text(5.4 / W, 1 - 864.7 / H, "Stoch(15,4,4) 71.18 81.90", fontsize=6.8,
         va="center", ha="left")

lab_idx = list(range(0, n, 8))
ax_sto.set_xticks(lab_idx)
ax_sto.set_xticklabels([f"{dates[i].day} {dates[i].strftime('%b %Y')}" for i in lab_idx],
                       ha="left")
ax_sto.tick_params(axis="x", bottom=True, labelbottom=True, direction="out", length=2.0,
                   width=0.7, pad=1.4, labelsize=6.8)

fig.savefig("out.png", dpi=100)
